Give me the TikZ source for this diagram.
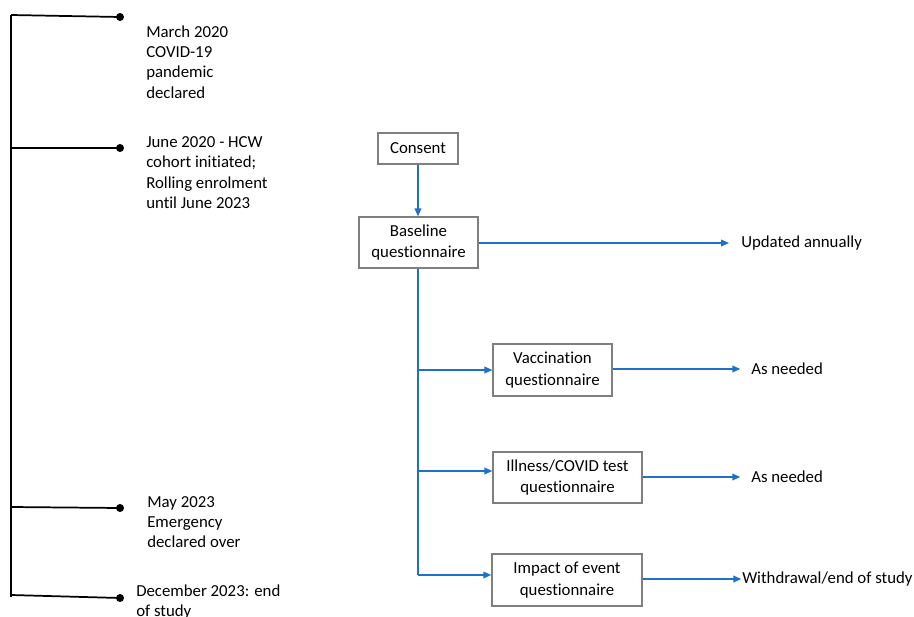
\documentclass[tikz,border=0pt]{standalone}
\usepackage{fontspec}
\setmainfont{Carlito}[RawFeature={-liga}]
\usetikzlibrary{arrows.meta,positioning}
\definecolor{arrblue}{HTML}{1F70C8}
\definecolor{boxgray}{HTML}{7F7F7F}
\tikzset{
  txt/.style={font=\fontsize{12.6}{15.2}\selectfont, align=left, inner sep=0pt, anchor=west},
  qbox/.style={draw=boxgray, line width=1.1pt, font=\fontsize{12.6}{16.4}\selectfont, align=center, inner sep=0pt, minimum height=#1},
  arr/.style={draw=arrblue, line width=1.1pt, -{Triangle[length=6pt,width=5pt]}},
  bl/.style={draw=arrblue, line width=1.1pt},
  tl/.style={draw=black, line width=1.3pt},
  dot/.style={circle, fill=black, inner sep=0pt, minimum size=6pt}
}
\begin{document}
\begin{tikzpicture}[x=0.75pt,y=-0.75pt]
\useasboundingbox (0,0) rectangle (914,617);
% timeline
\coordinate (t0) at (11,15);
\coordinate (t4) at (11,597);
\draw[tl] (t0) -- (t4);
\node[dot] (d1) at (120,17) {};
\node[dot] (d2) at (120,148) {};
\node[dot] (d3) at (120,508) {};
\node[dot] (d4) at (120,598) {};
\coordinate (l1) at (11,15);
\coordinate (l2) at (11,148);
\coordinate (l3) at (11,507);
\coordinate (l4) at (11,595);
\draw[tl] (l1) -- (d1.center);
\draw[tl] (l2) -- (d2.center);
\draw[tl] (l3) -- (d3.center);
\draw[tl] (l4) -- (d4.center);
\node[txt] (e1) at (146,62) {March 2020\\COVID-19\\pandemic\\declared};
\node[txt] (e2) at (146,172.5) {June 2020 - HCW\\cohort initiated;\\Rolling enrolment\\until June 2023};
\node[txt] (e3) at (147,522) {May 2023\\Emergency\\declared over};
\node[txt] (e4) at (136,602) {December 2023: end\\of study};
% flowchart
\node[qbox=23.25pt, minimum width=60pt] (cons) at (418,148.5) {Consent};
\node[qbox=38pt, minimum width=89pt] (base) at (418.5,242.5) {Baseline\\questionnaire};
\node[qbox=39pt, minimum width=89pt] (vac) at (552.5,370) {Vaccination\\questionnaire};
\node[qbox=38pt, minimum width=111.5pt] (ill) at (567.5,477.5) {Illness/COVID test\\questionnaire};
\node[qbox=39pt, minimum width=112.5pt] (imp) at (567,580) {Impact of event\\questionnaire};
\node[txt] (upd) at (741,243) {Updated annually};
\node[txt] (an1) at (751,369) {As needed};
\node[txt] (an2) at (751,477) {As needed};
\node[txt] (wd) at (742,579) {Withdrawal/end of study};
\draw[arr] (cons.south |- cons.south) -- (cons.south |- base.north);
\draw[arr] (base.east |- upd.west) -- ([xshift=-9pt]upd.west);
\draw[arr] (vac.east |- an1.west) -- ([xshift=-8pt]an1.west);
\draw[arr] (ill.east |- an2.west) -- ([xshift=-8pt]an2.west);
\draw[arr] (imp.east |- wd.west) -- ([xshift=-0.5pt]wd.west);
\coordinate (b1) at (418,370);
\coordinate (b2) at (418,471);
\coordinate (b3) at (418,575);
\draw[bl] (b3 |- base.south) -- (b3);
\draw[arr] (b1) -- (b1 -| vac.west);
\draw[arr] (b2) -- (b2 -| ill.west);
\draw[arr] (b3) -- (b3 -| imp.west);
\end{tikzpicture}
\end{document}
